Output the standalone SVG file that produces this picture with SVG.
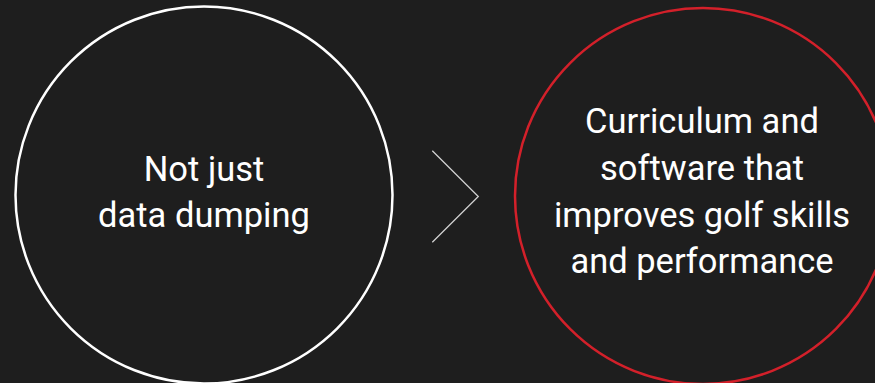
<svg xmlns="http://www.w3.org/2000/svg" width="875" height="383" viewBox="0 0 875 383">
<style>
.t{font-family:Roboto,"Open Sans","Liberation Sans",sans-serif;font-size:34.5px;fill:#ffffff;text-anchor:middle}
</style>
<rect width="875" height="383" fill="#1e1e1e"/>
<g id="node-left">
<circle cx="204" cy="195" r="188.5" fill="none" stroke="#ffffff" stroke-width="2.5"/>
<text class="t" x="204" y="181">Not just</text>
<text class="t" x="204" y="227">data dumping</text>
</g>
<g id="connectors">
<polyline points="432.3,150.7 478.3,196.5 432.3,242.3" fill="none" stroke="#d0d0d0" stroke-width="1.3"/>
</g>
<g id="node-right">
<circle cx="703" cy="196" r="188" fill="none" stroke="#d3202a" stroke-width="2.5"/>
<text class="t" x="702" y="133">Curriculum and</text>
<text class="t" x="702" y="180">software that</text>
<text class="t" x="702" y="227">improves golf skills</text>
<text class="t" x="702" y="273">and performance</text>
</g>
</svg>
